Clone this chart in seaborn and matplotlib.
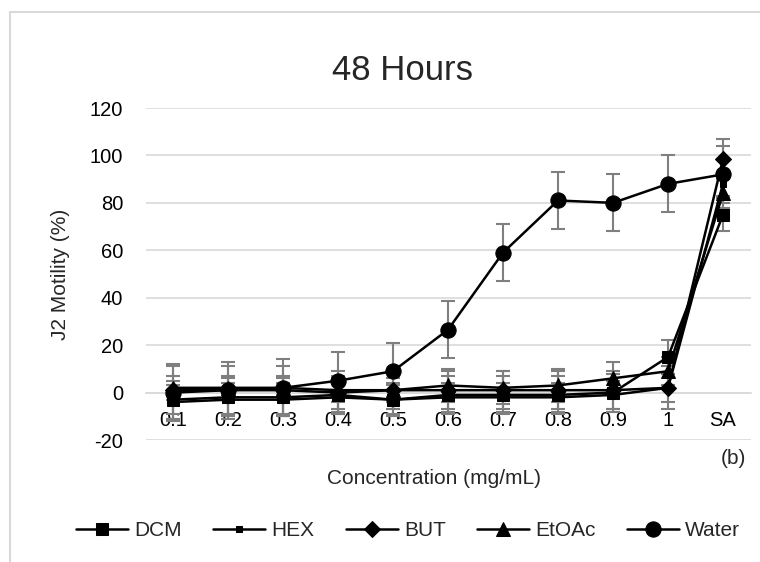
import numpy as np
import pandas as pd
import matplotlib
matplotlib.use("Agg")
import matplotlib.pyplot as plt
from matplotlib.patches import Rectangle
import seaborn as sns

# ------------------------
# Data
# ------------------------
concentrations = ["0.1", "0.2", "0.3", "0.4", "0.5", "0.6", "0.7", "0.8", "0.9", "1", "SA"]

dcm = [-3, -2, -2, -1, -3, -1, -1, -1, 0, 15, 75]
hex_ = [-4, -3, -3, -2, -3, -2, -2, -2, -1, 2, 88]
but = [1, 1, 1, 0, 1, 1, 1, 1, 1, 2, 98.5]
etoac = [2, 2, 2, 1, 1, 3, 2, 3, 6, 9, 84]
water = [0, 1, 2, 5, 9, 26.5, 59, 81, 80, 88, 92]

dcm_err = [8, 8, 8, 8, 7, 8, 8, 8, 8, 7, 7]
hex_err = [7, 7, 7, 6, 6, 6, 6, 6, 6, 6, 5]
but_err = [10, 10, 10, 9, 8, 8, 8, 8, 8, 9, 8.5]
etoac_err = [5, 5, 5, 5, 5, 7, 7, 7, 7, 6, 6]
water_err = [12, 12, 12, 12, 12, 12, 12, 12, 12, 12, 12]

y_ticks = [-20, 0, 20, 40, 60, 80, 100, 120]

series = [
    ("DCM", dcm, dcm_err, "s", 9),
    ("HEX", hex_, hex_err, "s", 4),
    ("BUT", but, but_err, "D", 8),
    ("EtOAc", etoac, etoac_err, "^", 10),
    ("Water", water, water_err, "o", 11),
]

# ------------------------
# Style
# ------------------------
sns.set_theme(style="white")
plt.rcParams["font.family"] = ["Liberation Sans", "DejaVu Sans"]
plt.rcParams["axes.unicode_minus"] = False

W, H = 760, 562
fig = plt.figure(figsize=(W / 100, H / 100), dpi=100)
ax = fig.add_axes([145.5 / W, 1 - 440 / H, 605 / W, 332 / H])

x = np.arange(len(concentrations))
grid_col = "#d9d9d9"

# error bars first, then lines on top
for name, vals, err, mk, ms in series:
    ax.errorbar(x, vals, yerr=err, fmt="none", ecolor="#7f7f7f",
                elinewidth=1.5, capsize=5, capthick=1.5, zorder=2)

for name, vals, err, mk, ms in series:
    sns.lineplot(x=x, y=vals, ax=ax, color="black", linewidth=1.8,
                 marker=mk, markersize=ms, markeredgecolor="black",
                 markerfacecolor="black", label=name, zorder=3)

ax.set_xlim(-0.5, len(concentrations) - 0.5)
ax.set_ylim(-20, 120)
ax.set_yticks(y_ticks)
ax.set_xticks(x)
ax.set_xticklabels(concentrations)

ax.yaxis.grid(True, color=grid_col, linewidth=1.2)
ax.xaxis.grid(False)
ax.set_axisbelow(True)
for s in ["top", "right", "left"]:
    ax.spines[s].set_visible(False)
ax.spines["bottom"].set_position(("data", 0))
ax.spines["bottom"].set_color(grid_col)
ax.spines["bottom"].set_linewidth(1.2)
ax.tick_params(axis="x", length=0, pad=13, labelsize=14.5, colors="black")
ax.tick_params(axis="y", length=0, pad=16, labelsize=14.5, colors="black")

ax.set_xlabel("")
ax.set_ylabel("J2 Motility (%)", fontsize=15)
ax.yaxis.set_label_coords(-(145.5 - 70) / 605, 0.5)

fig.text(402 / W, 1 - 70 / H, "48 Hours", fontsize=25, ha="center", va="center")
fig.text(434 / W, 1 - 478 / H, "Concentration (mg/mL)", fontsize=15, ha="center", va="center")
fig.text(733 / W, 1 - 458 / H, "(b)", fontsize=15, ha="center", va="center")

# legend below
handles, labels = ax.get_legend_handles_labels()
ax.legend_.remove()
fig.legend(handles, labels, loc="center", bbox_to_anchor=(408 / W, 1 - 531 / H),
           ncol=5, frameon=False, fontsize=15, handlelength=2.5,
           handletextpad=0.3, columnspacing=1.5)

# outer chart frame
fig.patches.append(Rectangle((10 / W, -0.05), 1.1, 1 - 12 / H + 0.05,
                             transform=fig.transFigure, fill=False,
                             edgecolor=grid_col, linewidth=1.5))

fig.savefig("out.png", dpi=100)
plt.close(fig)
